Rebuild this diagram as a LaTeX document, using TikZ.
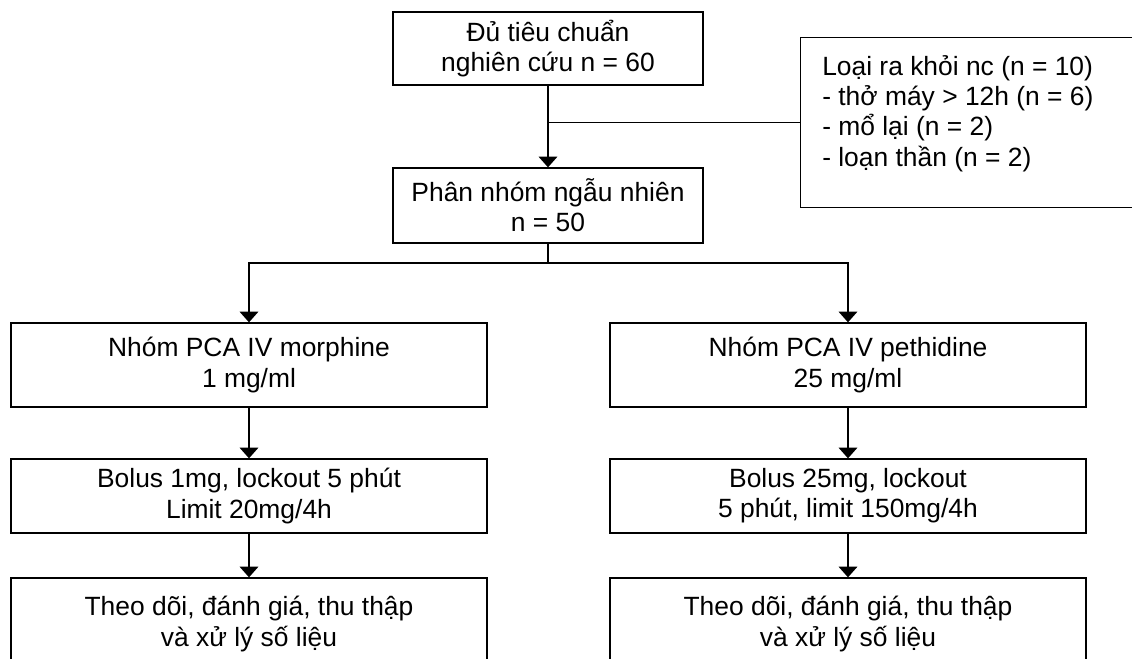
\documentclass[tikz,border=0pt]{standalone}
\usepackage{fontspec}
\setmainfont{Liberation Sans}
\usetikzlibrary{arrows.meta}

\tikzset{
	flowbox/.style={shape=rectangle, draw=black, line width=1pt, align=center, inner sep=0pt},
	flowline/.style={line width=1pt},
	flowarrow/.style={flowline, -{Triangle[width=14pt,length=8pt]}},
}

\begin{document}
\begin{tikzpicture}[x=0.75pt, y=-0.75pt, font=\fontsize{19.8}{22.7}\selectfont]
	\clip (0,0) rectangle (1132,659);
	
	\node[flowbox, minimum width=232.5pt, minimum height=54.75pt] (start) at (548,48.5)  {Đủ tiêu chuẩn\\nghiên cứu n = 60};
	\node[flowbox, minimum width=232.5pt, minimum height=56.25pt] (rand)  at (548,205.5) {Phân nhóm ngẫu nhiên\\n = 50};
	\node[flowbox, anchor=north west, minimum width=300pt, minimum height=127.5pt] (excl) at (800,37) {};
	\node[anchor=north west, align=left, inner sep=0pt] (excltext) at (822,55) {Loại ra khỏi nc (n = 10)\\- thở máy > 12h (n = 6)\\- mổ lại (n = 2)\\- loạn thần (n = 2)};
	
	\node[flowbox, minimum width=357pt, minimum height=63pt]   (morph)   at (249,365) {Nhóm PCA IV morphine\\1 mg/ml};
	\node[flowbox, minimum width=357pt, minimum height=63pt]   (peth)    at (848,365) {Nhóm PCA IV pethidine\\25 mg/ml};
	\node[flowbox, minimum width=357pt, minimum height=55.5pt] (bolusA)  at (249,496) {Bolus 1mg, lockout 5 phút\\Limit 20mg/4h};
	\node[flowbox, minimum width=357pt, minimum height=55.5pt] (bolusB)  at (848,496) {Bolus 25mg, lockout\\5 phút, limit 150mg/4h};
	\node[flowbox, minimum width=357pt, minimum height=69pt]   (followA) at (249,624) {Theo dõi, đánh giá, thu thập\\và xử lý số liệu};
	\node[flowbox, minimum width=357pt, minimum height=69pt]   (followB) at (848,624) {Theo dõi, đánh giá, thu thập\\và xử lý số liệu};
	
	\coordinate (split) at (548,263);
	
	\draw[flowarrow] (start) -- (rand);
	\draw[flowline] (excl.west) -- (start.south |- excl.west);
	\draw[flowline] (rand) -- (split);
	\draw[flowarrow] (split) -| (morph.north);
	\draw[flowarrow] (split) -| (peth.north);
	\draw[flowarrow] (morph) -- (bolusA);
	\draw[flowarrow] (bolusA) -- (followA);
	\draw[flowarrow] (peth) -- (bolusB);
	\draw[flowarrow] (bolusB) -- (followB);
	
\end{tikzpicture}
\end{document}
